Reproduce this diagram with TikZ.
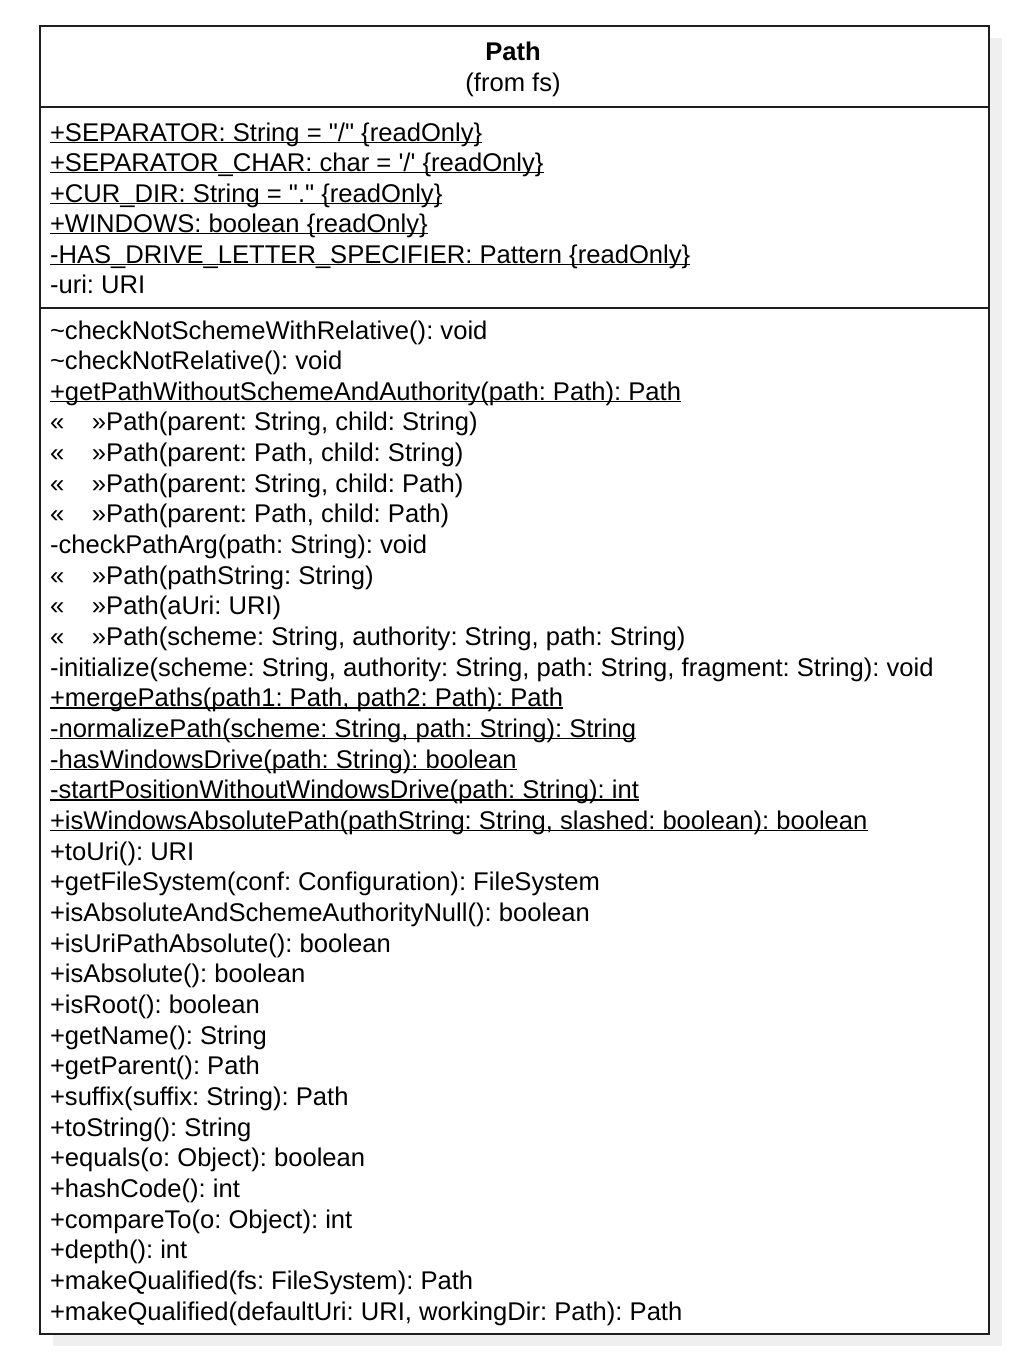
\documentclass[tikz,border=0pt]{standalone}
\usepackage{fontspec}
\setmainfont{Liberation Sans}
\usepackage{tikz}
\usetikzlibrary{positioning}

\definecolor{shadowgray}{HTML}{EFEFEF}
\definecolor{framegray}{HTML}{1E1E1E}

% underline for class-level members
\newcommand\classlevel[1]{\setbox0\hbox{#1}\rlap{\rule[-0.9pt]{\wd0}{0.65pt}}\box0}
\newcommand\ctor{\makebox[21pt][l]{«}»}
\newcommand\dq{\textquotedbl}
\newcommand\sq{\textquotesingle}

\begin{document}
\frenchspacing
\begin{tikzpicture}[
  x=0.5pt, y=-0.5pt,
  font=\fontsize{12.8}{15}\selectfont,
  member/.style={anchor=base west, inner sep=0pt, outer sep=0pt},
  titletext/.style={anchor=base, inner sep=0pt},
  frame/.style={draw=framegray, line width=1pt},
  divider/.style={draw=framegray, line width=0.9pt}
]
\useasboundingbox (0,0) rectangle (1034,1370);

% shadow and class box
\fill[shadowgray] (53,38) rectangle (1002,1346);
\node[frame, fill=white, minimum width=474.5pt, minimum height=654pt, anchor=north west,
  inner sep=0pt] (cls) at (39,25) {};
\coordinate (div1) at (39,107);
\coordinate (div2) at (39,308);
\draw[divider] (div1) -- (div1 -| cls.east);
\draw[divider] (div2) -- (div2 -| cls.east);

% name compartment
\node[titletext, font=\fontsize{12.8}{15}\selectfont\bfseries] (name) at (513,61) {Path};
\node[titletext] (pkg) at (513,91) {(from fs)};

% attributes
\foreach \txt [count=\i] in {
  {\classlevel{+SEPARATOR: String = \dq/\dq{} \{readOnly\}}},
  {\classlevel{+SEPARATOR\_CHAR: char = \sq/\sq{} \{readOnly\}}},
  {\classlevel{+CUR\_DIR: String = \dq.\dq{} \{readOnly\}}},
  {\classlevel{+WINDOWS: boolean \{readOnly\}}},
  {\classlevel{-HAS\_DRIVE\_LETTER\_SPECIFIER: Pattern \{readOnly\}}},
  {-uri: URI}}
  \node[member] (attr\i) at (50,141+30.5*\i-30.5) {\txt};

% operations
\foreach \txt [count=\i] in {
  {\textasciitilde checkNotSchemeWithRelative(): void},
  {\textasciitilde checkNotRelative(): void},
  {\classlevel{+getPathWithoutSchemeAndAuthority(path: Path): Path}},
  {\ctor Path(parent: String, child: String)},
  {\ctor Path(parent: Path, child: String)},
  {\ctor Path(parent: String, child: Path)},
  {\ctor Path(parent: Path, child: Path)},
  {-checkPathArg(path: String): void},
  {\ctor Path(pathString: String)},
  {\ctor Path(aUri: URI)},
  {\ctor Path(scheme: String, authority: String, path: String)},
  {-initialize(scheme: String, authority: String, path: String, fragment: String): void},
  {\classlevel{+mergePaths(path1: Path, path2: Path): Path}},
  {\classlevel{-normalizePath(scheme: String, path: String): String}},
  {\classlevel{-hasWindowsDrive(path: String): boolean}},
  {\classlevel{-startPositionWithoutWindowsDrive(path: String): int}},
  {\classlevel{+isWindowsAbsolutePath(pathString: String, slashed: boolean): boolean}},
  {+toUri(): URI},
  {+getFileSystem(conf: Configuration): FileSystem},
  {+isAbsoluteAndSchemeAuthorityNull(): boolean},
  {+isUriPathAbsolute(): boolean},
  {+isAbsolute(): boolean},
  {+isRoot(): boolean},
  {+getName(): String},
  {+getParent(): Path},
  {+suffix(suffix: String): Path},
  {+toString(): String},
  {+equals(o: Object): boolean},
  {+hashCode(): int},
  {+compareTo(o: Object): int},
  {+depth(): int},
  {+makeQualified(fs: FileSystem): Path},
  {+makeQualified(defaultUri: URI, workingDir: Path): Path}}
  \node[member] (op\i) at (50,339+30.66*\i-30.66) {\txt};
\end{tikzpicture}
\end{document}
